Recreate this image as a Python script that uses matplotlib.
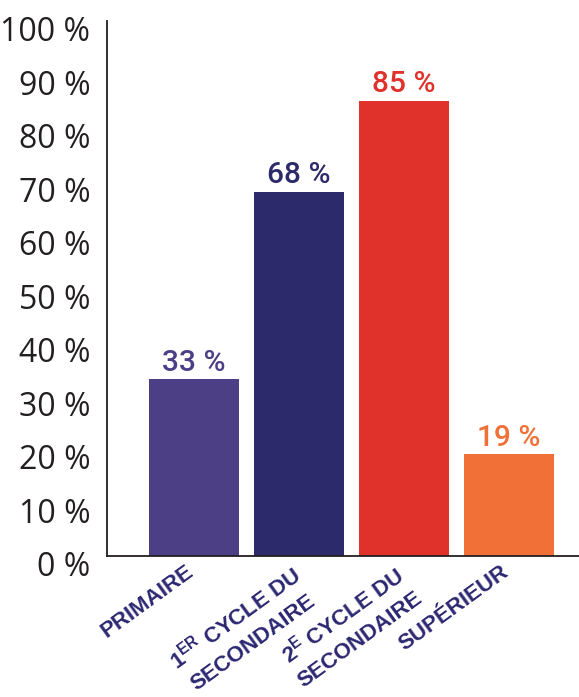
import matplotlib
matplotlib.use("Agg")
from matplotlib import pyplot as plt
from matplotlib import transforms
import numpy as np

plt.rcParams['mathtext.fontset'] = 'custom'
plt.rcParams['mathtext.bf'] = 'Liberation Sans:bold'
plt.rcParams['mathtext.rm'] = 'Liberation Sans:bold'

categories = ['PRIMAIRE',
              r'1$^{\mathbf{ER}}$ CYCLE DU' + '\nSECONDAIRE',
              r'2$^{\mathbf{E}}$ CYCLE DU' + '\nSECONDAIRE',
              'SUPÉRIEUR']
values = [33, 68, 85, 19]
colors = ['#4c3f86', '#2c2a6a', '#e0312b', '#f07037']
y_ticks = list(range(0, 101, 10))

fig = plt.figure(figsize=(5.79, 6.97), dpi=100)
ax = fig.add_axes([0.1848, 0.2023, 0.8152, 0.7676])

x = np.arange(len(values))
ax.bar(x, values, width=0.857, color=colors)

for xi, v, c in zip(x, values, colors):
    ax.annotate(f'{v} %', (xi, v), xytext=(0, 2), textcoords='offset points',
                ha='center', va='bottom', color=c, fontsize=21.5,
                family='Roboto', fontweight='medium')

ax.set_xlim(-0.829, 3.667)
ax.set_ylim(0, 100)
ax.set_yticks(y_ticks)
ax.set_yticklabels([f'{t} %' for t in y_ticks], family='Open Sans',
                   fontsize=23, color='#231f20')
ax.tick_params(axis='y', length=0, pad=12)
# labels sit a little below their gridline value
shift_down = transforms.ScaledTranslation(0, -12 / 100, fig.dpi_scale_trans)
for lab in ax.get_yticklabels():
    lab.set_va('center')
    lab.set_transform(lab.get_transform() + shift_down)

ax.set_xticks(x)
ax.set_xticklabels(categories, rotation=36, ha='right', rotation_mode='anchor',
                   family='Liberation Sans', fontweight='bold', fontsize=16,
                   color='#2b2770', multialignment='center', linespacing=1.45)
ax.tick_params(axis='x', length=0, pad=4)
shift_left = transforms.ScaledTranslation(-9 / 100, 0, fig.dpi_scale_trans)
for lab in ax.get_xticklabels():
    lab.set_transform(lab.get_transform() + shift_left)

for s in ['top', 'right']:
    ax.spines[s].set_visible(False)
for s in ['left', 'bottom']:
    ax.spines[s].set_color('#231f20')
    ax.spines[s].set_linewidth(1.3)

fig.savefig('out.png', dpi=100)
